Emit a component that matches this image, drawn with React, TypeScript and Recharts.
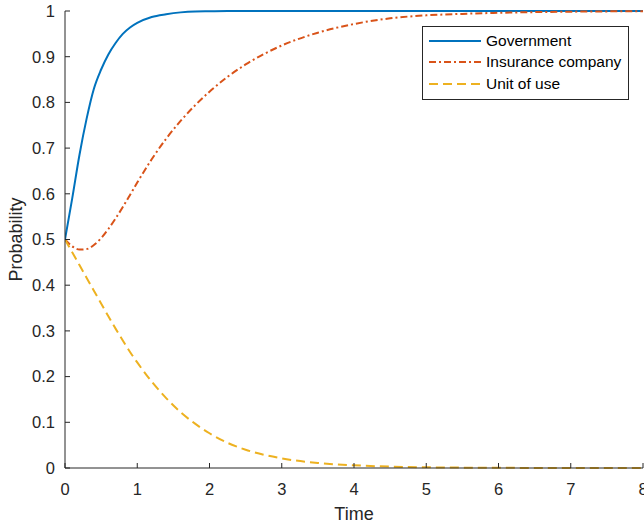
import { LineChart, Line, XAxis, YAxis, Legend } from 'recharts';

const time = [0, 0.1, 0.2, 0.3, 0.4, 0.5, 0.6, 0.7, 0.8, 0.9, 1.0, 1.2, 1.4, 1.6, 1.8, 2.0, 2.25, 2.5, 2.75, 3, 3.5, 4, 4.5, 5, 5.5, 6, 7, 8];
const government = [0.5, 0.59, 0.685, 0.765, 0.83, 0.872, 0.905, 0.93, 0.95, 0.964, 0.974, 0.987, 0.993, 0.997, 0.999, 0.9995, 1, 1, 1, 1, 1, 1, 1, 1, 1, 1, 1, 1];
const insurance = [0.5, 0.485, 0.478, 0.479, 0.488, 0.503, 0.523, 0.546, 0.571, 0.5975, 0.6245, 0.6755, 0.7205, 0.7595, 0.7935, 0.8235, 0.856, 0.883, 0.9055, 0.9245, 0.9525, 0.9715, 0.984, 0.9905, 0.9937, 0.996, 0.9985, 0.9995];
const unitOfUse = [0.5, 0.472, 0.444, 0.416, 0.388, 0.36, 0.332, 0.305, 0.279, 0.254, 0.231, 0.189, 0.153, 0.122, 0.097, 0.076, 0.055, 0.04, 0.029, 0.021, 0.011, 0.006, 0.003, 0.0015, 0.0008, 0.0004, 0.0001, 0];

const xTicks = [0, 1, 2, 3, 4, 5, 6, 7, 8];
const yTicks = [0, 0.1, 0.2, 0.3, 0.4, 0.5, 0.6, 0.7, 0.8, 0.9, 1];

const seriesInfo = [
  { key: 'government', name: 'Government', color: '#0072BD', dash: undefined },
  { key: 'insurance', name: 'Insurance company', color: '#D95319', dash: '7 3 2 3' },
  { key: 'unit', name: 'Unit of use', color: '#EDB120', dash: '9 5' },
];

const data = time.map((t, i) => ({
  t,
  government: government[i],
  insurance: insurance[i],
  unit: unitOfUse[i],
}));

const axisColor = '#262626';
const font = '"Liberation Sans", Arial, sans-serif';

const renderLegend = () => (
  <div
    style={{
      border: `1px solid ${axisColor}`,
      background: '#fff',
      width: 205,
      height: 69,
      paddingTop: 3,
      boxSizing: 'content-box',
      fontFamily: font,
      fontSize: 15.5,
      color: '#000',
    }}
  >
    {seriesInfo.map(s => (
      <div key={s.key} style={{ display: 'flex', alignItems: 'center', height: 21.5 }}>
        <svg width={52} height={6} style={{ marginLeft: 6, marginRight: 5 }}>
          <line x1={0} y1={3} x2={52} y2={3} stroke={s.color} strokeWidth={2} strokeDasharray={s.dash} />
        </svg>
        <span>{s.name}</span>
      </div>
    ))}
  </div>
);

const ProbabilityLabel = (props: any) => {
  const vb = props.viewBox || { x: 0, y: 0, width: 0, height: 0 };
  const cx = vb.x + 16;
  const cy = vb.y + vb.height / 2;
  return (
    <text
      x={cx}
      y={cy}
      transform={`rotate(-90 ${cx} ${cy})`}
      textAnchor="middle"
      dominantBaseline="central"
      fontFamily={font}
      fontSize={18}
      fill={axisColor}
    >
      Probability
    </text>
  );
};

export default function App() {
  return (
    <div style={{ position: 'absolute', left: 0, top: 0, background: '#fff' }}>
      <LineChart width={644} height={523} data={data} margin={{ top: 11, right: 1, bottom: 0, left: 0 }}>
        <XAxis
          dataKey="t"
          type="number"
          domain={[0, 8]}
          ticks={xTicks}
          interval={0}
          height={55}
          tickSize={-5}
          tickMargin={20}
          stroke={axisColor}
          tick={{ fill: axisColor, fontSize: 16.5, fontFamily: font }}
          allowDataOverflow
          label={{ value: 'Time', position: 'insideBottom', offset: 3, fill: axisColor, fontSize: 18, fontFamily: font }}
        />
        <XAxis
          xAxisId="top"
          orientation="top"
          dataKey="t"
          type="number"
          domain={[0, 8]}
          ticks={xTicks}
          interval={0}
          height={0}
          tickSize={-5}
          tick={false}
          stroke={axisColor}
        />
        <YAxis
          type="number"
          domain={[0, 1]}
          ticks={yTicks}
          interval={0}
          width={65}
          tickSize={-5}
          tickMargin={15}
          stroke={axisColor}
          tick={{ fill: axisColor, fontSize: 16.5, fontFamily: font }}
          tickFormatter={(v: number) => String(Number(v.toFixed(1)))}
          label={{ content: ProbabilityLabel }}
        />
        <YAxis
          yAxisId="right"
          orientation="right"
          type="number"
          domain={[0, 1]}
          ticks={yTicks}
          interval={0}
          width={0}
          tickSize={-5}
          tick={false}
          stroke={axisColor}
        />
        <Legend
          layout="vertical"
          align="center"
          verticalAlign="middle"
          content={renderLegend}
          wrapperStyle={{ left: 422, top: 26, width: 'auto', height: 'auto' }}
        />
        {seriesInfo.map(s => (
          <Line
            key={s.key}
            type="monotone"
            dataKey={s.key}
            name={s.name}
            stroke={s.color}
            strokeWidth={2}
            strokeDasharray={s.dash}
            dot={false}
            activeDot={false}
            isAnimationActive={false}
          />
        ))}
      </LineChart>
    </div>
  );
}
